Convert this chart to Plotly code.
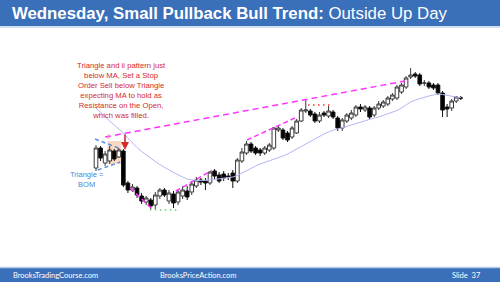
import plotly.graph_objects as go

# ---- data (price units; bars are 5-minute bars indexed 0..80) ----
bar_index = list(range(81))
opens = [132,152,137,139,149,143,149,117,110,112,104,98,100,95,104,110,99,106,98,104,
         109,108,114,120,119,117,129,125,126,124,127,119,139,147,156,152,150,147,150,152,
         170,170,167,163,167,179,189,189,186,179,187,184,188,182,172,179,182,185,193,190,
         192,185,192,194,196,201,202,208,213,223,226,225,217,217,215,215,207,193,192,199,202]
highs = [155,154,149,154,151,152,151,119,116,114,107,104,102,108,112,112,110,109,110,114,
         114,119,123,122,122,129,131,128,129,127,130,142,152,159,158,154,152,154,157,173,
         174,172,169,174,181,192,201,191,188,188,189,194,190,184,182,187,190,195,196,195,
         194,194,199,200,204,207,215,217,224,232,228,227,220,219,217,217,209,196,201,204,204]
lows = [129,139,134,136,139,142,113,107,108,102,96,95,91,91,101,103,96,92,95,101,
        100,105,112,115,110,115,121,117,119,120,112,117,137,145,147,145,144,145,148,150,
        168,160,158,161,166,178,187,183,177,177,183,182,181,169,169,177,180,183,188,188,
        181,183,190,192,194,199,200,206,211,221,222,214,214,211,210,205,183,183,189,197,200]
closes = [152,142,146,150,141,150,115,110,113,105,99,102,94,105,110,105,107,97,108,110,
          103,116,120,118,117,128,124,119,122,123,119,140,148,156,149,147,147,152,155,172,
          172,162,160,172,179,190,190,185,179,185,185,189,183,172,180,185,187,193,191,193,
          183,192,196,198,202,205,213,215,222,225,224,216,217,213,212,207,190,191,199,203,202]
ema20 = [192,188,183.5,179,175,171,167,162,157,152.5,148.5,145,141.5,138.5,135.5,132.5,130,127.5,125,123,
         121,120,119.5,119.5,119.5,120,120.5,121,121.5,122,123,124.5,127,129.5,132,134,136,137.5,139,140.5,
         142,144,146,148.5,151.5,154,156.5,159,161.5,164,166,168,170,171,172,173.5,175,176.5,178,179,
         180.5,182,183,184.5,186,187.5,189.5,192,195,198,200,201.5,203,204,205,206,205.5,204.5,203.5,203,202.5]

# annotation anchors (bar index, price)
upper_channel = ((2.0, 163), (67.8, 219))
selloff_channel = ((7.5, 112), (12.3, 91))
bull_channel_1 = ((17.5, 109), (25.4, 129.5))
bull_channel_2 = ((33.1, 160), (44.1, 183))
double_top = ((46.5, 195), (51.3, 195))
double_bottom = ((11.8, 90), (18.4, 90))
triangle_top = ((-0.2, 161), (5.5, 151))
triangle_bottom = ((0.4, 130), (5.3, 138))

fig = go.Figure()

fig.add_trace(go.Scatter(x=bar_index, y=ema20, mode="lines",
                         line=dict(color="#b3b6f7", width=1), hoverinfo="skip"))

fig.add_trace(go.Candlestick(
    x=bar_index, open=opens, high=highs, low=lows, close=closes,
    increasing=dict(fillcolor="white", line=dict(color="#3a3a3a", width=1)),
    decreasing=dict(fillcolor="black", line=dict(color="#111111", width=1)),
    whiskerwidth=0, hoverinfo="skip"))

shapes = []
# title / footer bars
shapes.append(dict(type="rect", xref="paper", yref="paper", x0=0, x1=1,
                   y0=1 - 26/282, y1=1, fillcolor="#3a6fb9", line_width=0, layer="below"))
shapes.append(dict(type="line", xref="paper", yref="paper", x0=0, x1=1,
                   y0=1 - 27/282, y1=1 - 27/282, line=dict(color="#c5d3ea", width=1.5)))
shapes.append(dict(type="rect", xref="paper", yref="paper", x0=0, x1=1,
                   y0=0, y1=14/282, fillcolor="#3a6fb9", line_width=0, layer="below"))
shapes.append(dict(type="line", xref="paper", yref="paper", x0=0, x1=1,
                   y0=14.5/282, y1=14.5/282, line=dict(color="#b9cbe6", width=1.5)))

# ii shaded box
shapes.append(dict(type="rect", x0=2.5, x1=5.6, y0=136, y1=159,
                   fillcolor="rgba(240,170,120,0.45)", line_width=0, layer="below"))

def seg(p, color, dash, width=1.5):
    (x0, y0), (x1, y1) = p
    shapes.append(dict(type="line", x0=x0, y0=y0, x1=x1, y1=y1,
                       line=dict(color=color, dash=dash, width=width)))

seg(upper_channel, "#ff33ff", "6px,4px")
seg(selloff_channel, "#ff33ff", "5px,3px")
seg(bull_channel_1, "#ff33ff", "5px,3px")
seg(bull_channel_2, "#ff33ff", "5px,3px")
seg(double_top, "#ff3030", "1.5px,3.5px", 1.5)
seg(double_bottom, "#66cc66", "1.5px,3.5px", 1.5)
seg(triangle_top, "#5b8fe0", "4px,3px", 1.5)
seg(triangle_bottom, "#5b8fe0", "4px,3px", 1.5)

annotations = [
    dict(xref="paper", yref="paper", x=10/500, y=1 - 13.5/282, xanchor="left", yanchor="middle",
         text="<b>Wednesday, Small Pullback Bull Trend:</b> Outside Up Day", showarrow=False,
         font=dict(family="Liberation Sans, Arial", size=16.8, color="white")),
    dict(xref="paper", yref="paper", x=11/500, y=7/282, xanchor="left", yanchor="middle",
         text="BrooksTradingCourse.com", showarrow=False,
         font=dict(family="Lato, Liberation Sans", size=7.5, color="white")),
    dict(xref="paper", yref="paper", x=158/500, y=7/282, xanchor="left", yanchor="middle",
         text="BrooksPriceAction.com", showarrow=False,
         font=dict(family="Lato, Liberation Sans", size=7.5, color="white")),
    dict(xref="paper", yref="paper", x=483/500, y=7/282, xanchor="right", yanchor="middle",
         text="Slide  37", showarrow=False,
         font=dict(family="Lato, Liberation Sans", size=7.5, color="white")),
    dict(x=5.6, y=210, text="Triangle and ii pattern just<br>below MA, Set a Stop<br>Order Sell below Triangle<br>"
         "expecting MA to hold as<br>Resistance on the Open,<br>which was filled.",
         showarrow=False, xanchor="center", yanchor="middle",
         font=dict(family="Liberation Sans, Arial", size=7.7, color="#d42a2a")),
    dict(x=6.36, y=150, text="", showarrow=True, ax=0, ay=-17, arrowhead=2, arrowsize=1,
         arrowwidth=1.6, arrowcolor="#d42a2a"),
    dict(x=2.85, y=164, text="ii", showarrow=False,
         font=dict(family="Liberation Sans, Arial", size=7, color="#e8a070")),
    dict(x=-1.97, y=121, text="Triangle =<br>BOM", showarrow=False, align="center",
         font=dict(family="Liberation Sans, Arial", size=7.5, color="#4a86d8")),
]

step = 4.56
x_first = 96
fig.update_layout(
    width=500, height=282, margin=dict(l=0, r=0, t=0, b=0),
    paper_bgcolor="white", plot_bgcolor="white", showlegend=False,
    boxgap=0.12, boxgroupgap=0.1,
    xaxis=dict(range=[-x_first/step, (500 - x_first)/step], visible=False,
               rangeslider=dict(visible=False), fixedrange=True),
    yaxis=dict(range=[18, 300], visible=False, fixedrange=True),
    shapes=shapes, annotations=annotations,
)

fig.write_html("out.html")
